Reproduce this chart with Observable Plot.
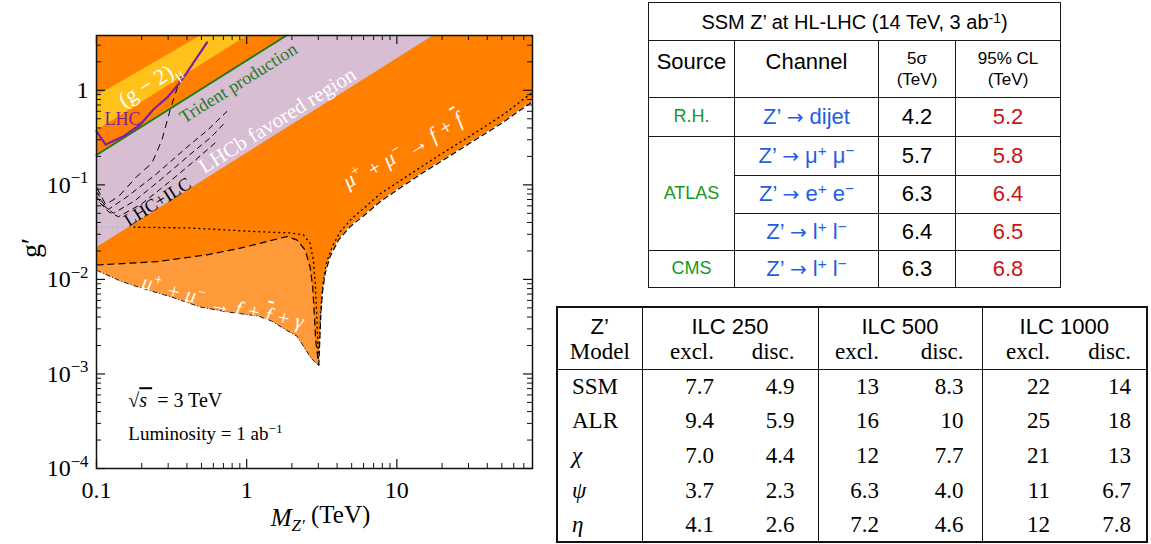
<!DOCTYPE html>
<html>
<head>
<meta charset="utf-8">
<script src="https://cdn.jsdelivr.net/npm/d3@7"></script>
<script src="https://cdn.jsdelivr.net/npm/@observablehq/plot@0.6"></script>
<style>
  body{margin:0;background:#fff;width:1151px;height:544px;position:relative;overflow:hidden}
  #chart{position:absolute;left:0;top:0}
  table{border-collapse:collapse;position:absolute;table-layout:fixed}
  #t1{left:648px;top:2px;width:412px;height:285px;font-family:"Liberation Sans",Arial,sans-serif;color:#000}
  #t1 td{border:1.3px solid #1a1a1a;text-align:center;vertical-align:middle;padding:0;font-size:22px;line-height:1.1}
  #t1 td.top{vertical-align:top;padding-top:9px}
  #t1 td.sm{font-size:17px;line-height:1.25}
  #t1 td.src{color:#17991f;font-size:18px}
  #t1 td.ch{color:#1f5fe0}
  #t1 td.red{color:#c81414}
  #t1 .arr{font-family:"DejaVu Sans",sans-serif;font-size:20px}
  #t1 sup{font-size:70%;vertical-align:0.45em;line-height:0}
  #t2{left:556px;top:306px;width:590px;height:236px;border:2px solid #111;color:#000;font-family:"Liberation Serif",serif}
  #t2 td{padding:0;vertical-align:middle;white-space:nowrap;font-size:23px;line-height:1}
  #t2 td.sans{font-family:"Liberation Sans",Arial,sans-serif;font-size:22px;text-align:center}
  #t2 td.sep{border-right:1.5px solid #111}
  #t2 tr.hb td{border-bottom:1.5px solid #111}
  #t2 td.model{text-align:left;padding-left:14px}
  #t2 td.num{text-align:right}
</style>
</head>
<body>
<div id="chart"></div>
<table id="t1"></table>
<table id="t2"></table>
<script>
// ---------------- chart data (M in TeV, g') ----------------
const xDomain = [0.1, 80];
const yDomain = [1e-4, 3.8];

// lower boundary of the mu+mu- -> f fbar gamma region (left part, down to the 3 TeV dip)
const lowLeftM = [0.1, 0.147, 0.204, 0.317, 0.492, 0.764, 1.19, 1.48, 1.84, 2.17, 2.42, 2.70, 3.02];
const lowLeftG = [0.0125, 0.0095, 0.0080, 0.0065, 0.0051, 0.0045, 0.0041, 0.0036, 0.0029, 0.0025, 0.0019, 0.00145, 0.00123];
// lower boundary of the mu+mu- -> f fbar region (right of the dip)
const lowRightM = [3.02, 3.05, 3.11, 3.19, 3.33, 3.59, 4.08, 4.87, 6.29, 7.7, 10, 15, 20, 30, 50, 80];
const lowRightG = [0.00123, 0.0018, 0.0040, 0.0071, 0.0116, 0.0174, 0.026, 0.036, 0.050, 0.066, 0.088, 0.135, 0.18, 0.27, 0.45, 0.76];
// upper (dashed) edge of the f fbar gamma region
const ffgUpM = [0.1, 0.253, 0.544, 0.906, 1.36, 1.85, 2.15, 2.45, 2.64, 2.75, 2.81, 2.88, 3.02];
const ffgUpG = [0.0142, 0.0154, 0.0182, 0.0214, 0.0251, 0.0284, 0.0262, 0.0205, 0.0136, 0.0084, 0.0047, 0.00227, 0.00123];
// dotted contour
const dotM = [0.176, 0.42, 1.17, 1.95, 2.38, 2.64, 2.78, 2.87, 2.93, 3.0, 3.06, 3.12, 3.22, 3.4, 3.7, 4.2, 5.0, 6.3, 7.7, 10, 15, 20, 30, 50, 80];
const dotG = [0.0357, 0.035, 0.032, 0.031, 0.0297, 0.0242, 0.016, 0.0084, 0.004, 0.0014, 0.0025, 0.005, 0.009, 0.015, 0.022, 0.032, 0.044, 0.060, 0.080, 0.105, 0.16, 0.215, 0.32, 0.54, 0.95];
const dotFaintM = [0.1, 0.176];
const dotFaintG = [0.0357, 0.0357];
// (g-2)_mu band vertices
const gm2M = [0.1, 1.0, 0.49, 0.1];
const gm2G = [0.38, 3.8, 3.8, 0.88];
// LHCb favoured band vertices
const lhcbM = [0.1, 1.84, 17.3, 0.1];
const lhcbG = [0.207, 3.8, 3.8, 0.022];
// trident production bound
const tridentM = [0.1, 1.84];
const tridentG = [0.207, 3.8];
// LHC bound
const lhcM = [0.1, 0.115, 0.152, 0.196, 0.24, 0.295, 0.344, 0.40, 0.467, 0.545];
const lhcG = [0.369, 0.267, 0.327, 0.435, 0.63, 0.836, 1.11, 1.54, 2.23, 3.22];
// LHC+ILC dashed contours
const ilcAM = [0.1, 0.108, 0.115, 0.14, 0.186, 0.234, 0.273, 0.31, 0.36, 0.38];
const ilcAG = [0.095, 0.075, 0.062, 0.075, 0.123, 0.17, 0.30, 0.63, 1.31, 1.6];
const ilcB1M = [0.1, 0.11, 0.12, 0.16, 0.25, 0.4, 0.55, 0.74];
const ilcB1G = [0.085, 0.065, 0.055, 0.075, 0.13, 0.25, 0.38, 0.60];
const ilcB2M = [0.1, 0.112, 0.13, 0.18, 0.27, 0.42, 0.58, 0.72];
const ilcB2G = [0.075, 0.06, 0.05, 0.068, 0.115, 0.21, 0.32, 0.46];
const ilcB3M = [0.105, 0.12, 0.14, 0.2, 0.3, 0.45, 0.62];
const ilcB3G = [0.065, 0.052, 0.046, 0.063, 0.105, 0.18, 0.28];

const xMajor = [0.1, 1, 10];
const yMajor = [1e-4, 1e-3, 1e-2, 1e-1, 1];

// ---------------- table data ----------------
const hlSource = ["R.H.", "ATLAS", "ATLAS", "ATLAS", "CMS"];
const hlChannel = ["Z’ → dijet", "Z’ → μ^+ μ^−", "Z’ → e^+ e^−", "Z’ → l^+ l^−", "Z’ → l^+ l^−"];
const hl5sigma = ["4.2", "5.7", "6.3", "6.4", "6.3"];
const hl95CL = ["5.2", "5.8", "6.4", "6.5", "6.8"];

const ilcModels = ["SSM", "ALR", "χ", "ψ", "η"];
const ilcColliders = ["ILC 250", "ILC 500", "ILC 1000"];
const ilc250Excl = ["7.7", "9.4", "7.0", "3.7", "4.1"];
const ilc250Disc = ["4.9", "5.9", "4.4", "2.3", "2.6"];
const ilc500Excl = ["13", "16", "12", "6.3", "7.2"];
const ilc500Disc = ["8.3", "10", "7.7", "4.0", "4.6"];
const ilc1000Excl = ["22", "25", "21", "11", "12"];
const ilc1000Disc = ["14", "18", "13", "6.7", "7.8"];

// ---------------- chart ----------------
const SERIF = "Liberation Serif, Times New Roman, serif";
const ORANGE = "#ff8000", LIGHT = "#ff9a3a", YELLOW = "#ffc21a", LAVENDER = "#d8bed3", GREEN = "#1f7a1f", PURPLE = "#7d1fa0";
const pts = (ms, gs) => ms.map((m, i) => ({m, g: gs[i]}));

const W = 560, H = 544, ML = 96, MR = 28, MT = 35, MB = 76;
const FW = W - ML - MR, FH = H - MT - MB;

const boundary = [...pts(lowLeftM, lowLeftG), ...pts(lowRightM, lowRightG).slice(1)];
const ffgPoly = [...pts(lowLeftM, lowLeftG), ...pts(ffgUpM, ffgUpG).reverse()];

const xMinor = [], yMinor = [];
for (const d of xMajor) for (let k = 2; k <= 9; k++) if (k * d <= xDomain[1]) xMinor.push(k * d);
for (const d of yMajor) for (let k = 2; k <= 9; k++) if (k * d <= yDomain[1]) yMinor.push(k * d);

const line = (ms, gs, o) => Plot.line(pts(ms, gs), {x: "m", y: "g", curve: "linear", ...o});

const chart = Plot.plot({
  width: W, height: H,
  marginLeft: ML, marginRight: MR, marginTop: MT, marginBottom: MB,
  style: {fontFamily: SERIF, fontSize: "22px", color: "black", background: "transparent"},
  x: {type: "log", domain: xDomain},
  y: {type: "log", domain: yDomain},
  marks: [
    Plot.areaY(boundary, {x: "m", y1: "g", y2: yDomain[1], fill: ORANGE, curve: "linear"}),
    Plot.line(ffgPoly, {x: "m", y: "g", fill: LIGHT, stroke: "none", curve: "linear"}),
    line(gm2M, gm2G, {fill: YELLOW, stroke: "none"}),
    line(lhcbM, lhcbG, {fill: LAVENDER, stroke: "none"}),
    // contours
    line(dotFaintM, dotFaintG, {stroke: "#aab6dc", strokeWidth: 1.3, strokeDasharray: "2,3", strokeLinecap: "butt"}),
    line(dotM, dotG, {stroke: "black", strokeWidth: 1.3, strokeDasharray: "2,3", strokeLinecap: "butt"}),
    line(ffgUpM, ffgUpG, {stroke: "black", strokeWidth: 1.2, strokeDasharray: "7,4", strokeLinecap: "butt"}),
    line(lowRightM, lowRightG, {stroke: "black", strokeWidth: 1.2, strokeDasharray: "6,3", strokeLinecap: "butt"}),
    line(lowLeftM, lowLeftG, {stroke: "#222", strokeWidth: 1, strokeDasharray: "5,2,1,2", strokeLinecap: "butt"}),
    line(ilcAM, ilcAG, {stroke: "black", strokeWidth: 1, strokeDasharray: "7,5", strokeLinecap: "butt"}),
    line(ilcB1M, ilcB1G, {stroke: "black", strokeWidth: 1, strokeDasharray: "6,4", strokeLinecap: "butt"}),
    line(ilcB2M, ilcB2G, {stroke: "black", strokeWidth: 1, strokeDasharray: "6,4", strokeLinecap: "butt"}),
    line(ilcB3M, ilcB3G, {stroke: "black", strokeWidth: 1, strokeDasharray: "6,4", strokeLinecap: "butt"}),
    line(tridentM, tridentG, {stroke: GREEN, strokeWidth: 2}),
    line(lhcM, lhcG, {stroke: PURPLE, strokeWidth: 2.2}),
    // annotations
    Plot.text([{m: 0.225, g: 1.17}], {x: "m", y: "g", text: () => "(g − 2)μ", rotate: -32, fill: "white", fontSize: 22, fontFamily: SERIF}),
    Plot.text([{m: 0.149, g: 0.49}], {x: "m", y: "g", text: () => "LHC", fill: PURPLE, fontSize: 18, fontFamily: SERIF}),
    Plot.text([{m: 0.88, g: 1.19}], {x: "m", y: "g", text: () => "Trident production", rotate: -32, fill: GREEN, fontSize: 18, fontFamily: SERIF}),
    Plot.text([{m: 1.6, g: 0.48}], {x: "m", y: "g", text: () => "LHCb favored region", rotate: -32, fill: "white", fontSize: 21, fontFamily: SERIF}),
    Plot.text([{m: 0.255, g: 0.066}], {x: "m", y: "g", text: () => "LHC+ILC", rotate: -32, fill: "black", fontSize: 18, fontFamily: SERIF}),
    Plot.text([{m: 10.7, g: 0.246}], {x: "m", y: "g", text: () => "μ+ + μ− → f + f̄", rotate: -32, fill: "white", fontSize: 21, fontStyle: "italic", fontFamily: SERIF}),
    Plot.text([{m: 0.70, g: 0.0062}], {x: "m", y: "g", text: () => "μ+ + μ− → f + f̄ + γ", rotate: 12, fill: "white", fontSize: 21, fontStyle: "italic", fontFamily: SERIF}),
    Plot.text([{m: 0.163, g: 5.2e-4}], {x: "m", y: "g", text: () => "√s = 3 TeV", textAnchor: "start", fill: "black", fontSize: 20, fontFamily: SERIF}),
    Plot.text([{m: 0.163, g: 2.35e-4}], {x: "m", y: "g", text: () => "Luminosity = 1 ab−1", textAnchor: "start", fill: "black", fontSize: 19, fontFamily: SERIF}),
    // axis titles
    Plot.text(["g′"], {text: d => d, frameAnchor: "left", dx: -65, dy: 6, rotate: -90, fontSize: 28, fontFamily: SERIF}),
    Plot.text(["MZ′ (TeV)"], {text: d => d, frameAnchor: "bottom", dx: 6, dy: 57, fontSize: 25, fontFamily: SERIF}),
    // frame and inward ticks on all sides
    Plot.frame({stroke: "#111", strokeWidth: 1.5}),
    Plot.tickX(xMajor, {x: d => d, insetTop: FH - 9, stroke: "#111", strokeWidth: 1.2}),
    Plot.tickX(xMajor, {x: d => d, insetBottom: FH - 9, stroke: "#111", strokeWidth: 1.2}),
    Plot.tickX(xMinor, {x: d => d, insetTop: FH - 5, stroke: "#111", strokeWidth: 1}),
    Plot.tickX(xMinor, {x: d => d, insetBottom: FH - 5, stroke: "#111", strokeWidth: 1}),
    Plot.tickY(yMajor, {y: d => d, insetRight: FW - 9, stroke: "#111", strokeWidth: 1.2}),
    Plot.tickY(yMajor, {y: d => d, insetLeft: FW - 9, stroke: "#111", strokeWidth: 1.2}),
    Plot.tickY(yMinor, {y: d => d, insetRight: FW - 5, stroke: "#111", strokeWidth: 1}),
    Plot.tickY(yMinor, {y: d => d, insetLeft: FW - 5, stroke: "#111", strokeWidth: 1}),
    Plot.axisX({ticks: xMajor, tickSize: 0, tickPadding: 12, tickFormat: d => String(d), label: null, fontSize: 24}),
    Plot.axisY({ticks: yMajor, tickSize: 0, tickPadding: 8, tickFormat: d => d === 1 ? "1" : "10^" + Math.round(Math.log10(d)), label: null, fontSize: 24})
  ]
});
document.getElementById("chart").appendChild(chart);

// rich text (superscripts / subscripts / overlines) on real SVG text
const sup = s => `<tspan dy="-0.5em" font-size="0.7em">${s}</tspan>`;
const rich = new Map([
  ["(g − 2)μ", `(g − 2)<tspan dy="0.35em" font-size="0.7em">μ</tspan>`],
  ["μ+ + μ− → f + f̄", `μ${sup("+")}<tspan dy="0.5em"> + μ</tspan>${sup("−")}<tspan dy="0.5em"> → f + </tspan><tspan style="text-decoration:overline">f</tspan>`],
  ["μ+ + μ− → f + f̄ + γ", `μ${sup("+")}<tspan dy="0.5em"> + μ</tspan>${sup("−")}<tspan dy="0.5em"> → f + </tspan><tspan style="text-decoration:overline">f</tspan><tspan> + γ</tspan>`],
  ["√s = 3 TeV", `√<tspan font-style="italic" style="text-decoration:overline">s </tspan> = 3 TeV`],
  ["Luminosity = 1 ab−1", `Luminosity = 1 ab${sup("−1")}`],
  ["MZ′ (TeV)", `<tspan font-style="italic">M</tspan><tspan font-style="italic" font-size="0.68em" dy="0.3em">Z′</tspan><tspan dy="-0.3em"> (TeV)</tspan>`]
]);
chart.querySelectorAll("text").forEach(t => {
  const k = t.textContent;
  if (rich.has(k)) t.innerHTML = rich.get(k);
  else {
    const m = /^10\^(-?\d+)$/.exec(k);
    if (m) t.innerHTML = `10<tspan dy="-0.55em" font-size="0.7em">${m[1].replace("-", "−")}</tspan>`;
  }
});

// ---------------- table 1 ----------------
const fmtCh = s => s.replace(/\^(.)/g, "<sup>$1</sup>").replace("→", `<span class="arr">→</span>`);
let h1 = `<colgroup><col style="width:86px"><col style="width:144px"><col style="width:77px"><col style="width:105px"></colgroup>`;
h1 += `<tr style="height:38px"><td colspan="4" style="font-size:20px">SSM Z’ at HL-LHC (14 TeV, 3 ab<sup>-1</sup>)</td></tr>`;
h1 += `<tr style="height:57px"><td class="top">Source</td><td class="top">Channel</td><td class="sm">5σ<br>(TeV)</td><td class="sm">95% CL<br>(TeV)</td></tr>`;
const rowH1 = [39, 39, 38, 37, 37];
hlSource.forEach((src, i) => {
  let cell = "";
  if (i === 0 || hlSource[i - 1] !== src) {
    let span = 1;
    while (hlSource[i + span] === src) span++;
    cell = `<td class="src" rowspan="${span}">${src}</td>`;
  }
  h1 += `<tr style="height:${rowH1[i]}px">${cell}<td class="ch">${fmtCh(hlChannel[i])}</td><td>${hl5sigma[i]}</td><td class="red">${hl95CL[i]}</td></tr>`;
});
document.getElementById("t1").innerHTML = h1;

// ---------------- table 2 ----------------
const colW = [85, 88, 88, 82, 82, 82, 83];
const padR = [0, 16, 23, 21, 18, 14, 15];
const cols = [ilc250Excl, ilc250Disc, ilc500Excl, ilc500Disc, ilc1000Excl, ilc1000Disc];
let h2 = `<colgroup>${colW.map(w => `<col style="width:${w}px">`).join("")}</colgroup>`;
h2 += `<tr style="height:32px"><td class="sans sep" style="padding-top:6px">Z’</td>${ilcColliders.map(c => `<td class="sans sep" colspan="2" style="padding-top:6px">${c}</td>`).join("")}</tr>`;
h2 += `<tr class="hb" style="height:30px"><td class="sep" style="text-align:center;padding-bottom:4px">Model</td>`;
for (let j = 0; j < 6; j++) h2 += `<td class="num${j % 2 ? " sep" : ""}" style="padding-right:${padR[j + 1]}px;padding-bottom:4px">${j % 2 ? "disc." : "excl."}</td>`;
h2 += `</tr>`;
ilcModels.forEach((mod, i) => {
  const it = /^[A-Z]/.test(mod) ? "" : "font-style:italic;";
  h2 += `<tr style="height:34.6px"><td class="model sep" style="${it}">${mod}</td>`;
  cols.forEach((c, j) => { h2 += `<td class="num${j % 2 ? " sep" : ""}" style="padding-right:${padR[j + 1]}px">${c[i]}</td>`; });
  h2 += `</tr>`;
});
document.getElementById("t2").innerHTML = h2;
</script>
</body>
</html>
